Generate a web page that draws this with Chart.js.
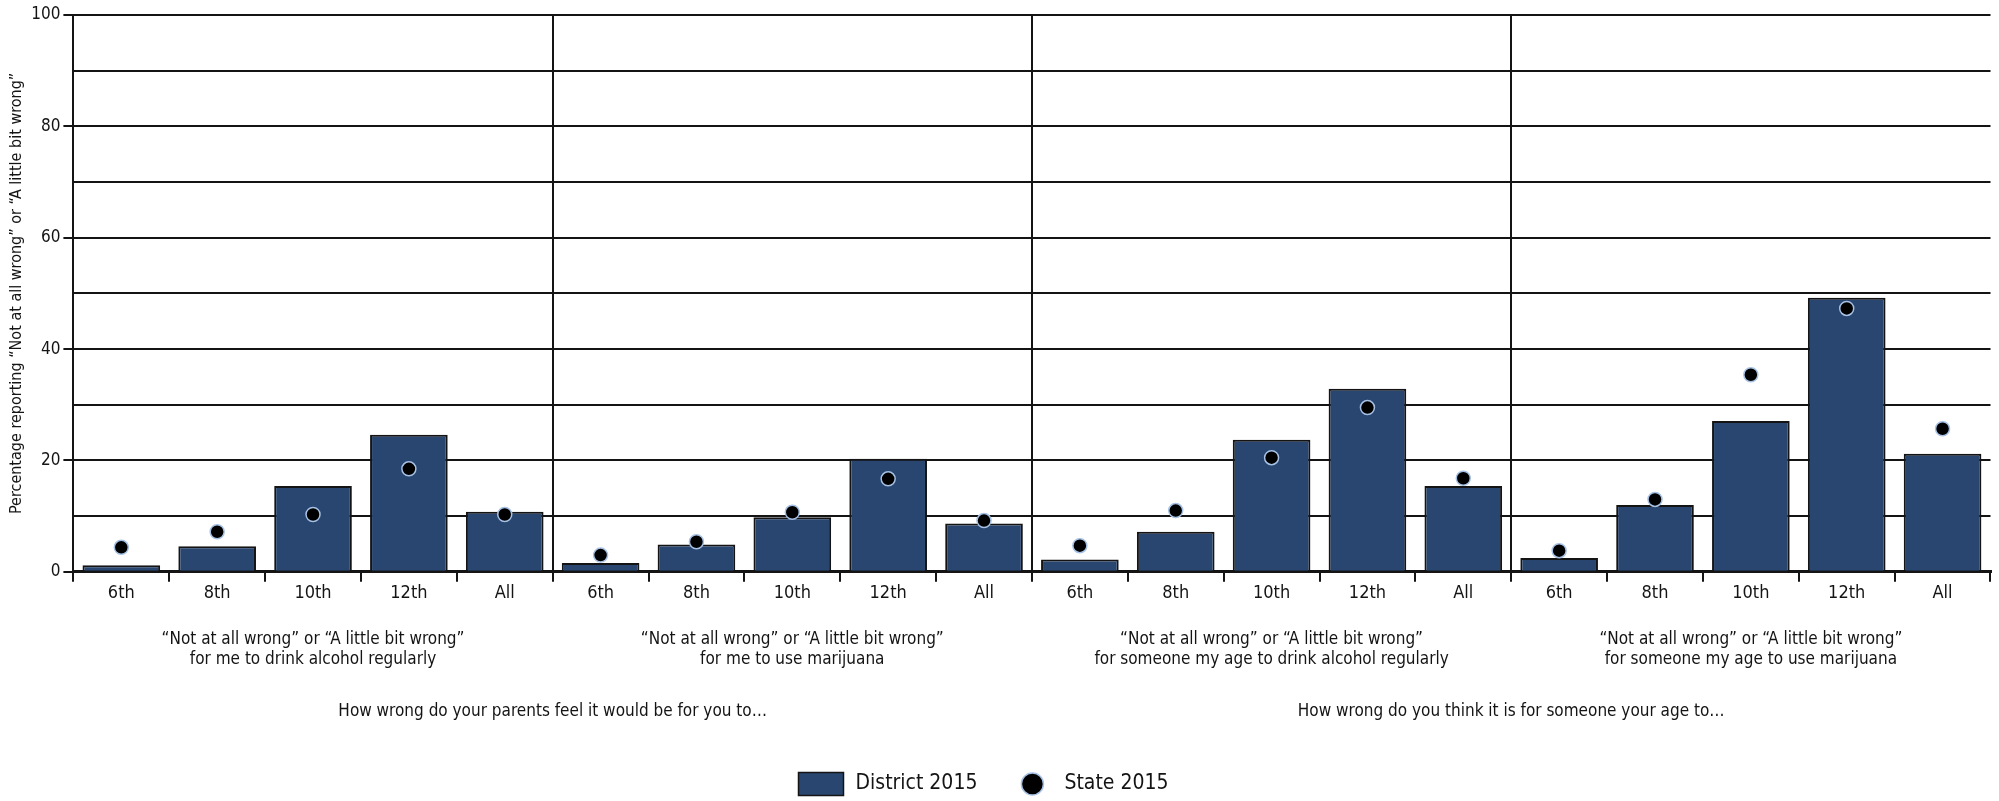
<!DOCTYPE html>
<html>
<head>
<meta charset="utf-8">
<script src="https://cdn.jsdelivr.net/npm/chart.js@4.4.1/dist/chart.umd.min.js"></script>
<style>
  html, body { margin: 0; padding: 0; background: #fff; }
  #wrap { width: 1999px; height: 801px; }
</style>
</head>
<body>
<div id="wrap"><canvas id="chart"></canvas></div>
<script>
// grades repeated for each of the four questions
var grades = ["6th", "8th", "10th", "12th", "All"];
var gradeLabels = [].concat(grades, grades, grades, grades);

var districtValues = [
    1.2, 4.6, 15.4, 24.6, 10.8,
    1.6, 4.9, 9.8, 20.3, 8.7,
    2.2, 7.2, 23.7, 32.9, 15.4,
    2.5, 12.0, 27.1, 49.2, 21.2
];
var stateValues = [
    4.4, 7.2, 10.3, 18.5, 10.3,
    3.0, 5.4, 10.7, 16.7, 9.2,
    4.7, 11.0, 20.5, 29.5, 16.8,
    3.8, 13.0, 35.4, 47.3, 25.7
];

var groupLabels = [
    ["\u201cNot at all wrong\u201d or \u201cA little bit wrong\u201d", "for me to drink alcohol regularly"],
    ["\u201cNot at all wrong\u201d or \u201cA little bit wrong\u201d", "for me to use marijuana"],
    ["\u201cNot at all wrong\u201d or \u201cA little bit wrong\u201d", "for someone my age to drink alcohol regularly"],
    ["\u201cNot at all wrong\u201d or \u201cA little bit wrong\u201d", "for someone my age to use marijuana"]
];
var questionLabels = [
    "How wrong do your parents feel it would be for you to\u2026",
    "How wrong do you think it is for someone your age to\u2026"
];
var yTitle = "Percentage reporting \u201cNot at all wrong\u201d or \u201cA little bit wrong\u201d";

var FONT = "'Liberation Sans Narrow', 'DejaVu Sans Condensed', sans-serif";
var INK = "#141414";
var NAVY = "#284670";
var DOT_EDGE = "#a6c1e4";

// legend drawn by hand: a box for the bars, a dot for the state points
var legendPlugin = {
    id: "bottomLegend",
    afterDraw: function (chart) {
        var ctx = chart.ctx;
        var sets = chart.data.datasets;
        var bar = sets[1], dot = sets[0];
        var y = 784;
        var x = chart.width / 2 - 201;
        ctx.save();
        ctx.font = "21px " + FONT;
        ctx.textBaseline = "middle";
        ctx.fillStyle = bar.backgroundColor;
        ctx.fillRect(x, y - 11.5, 45, 23);
        ctx.lineWidth = 1.5;
        ctx.strokeStyle = bar.borderColor;
        ctx.strokeRect(x, y - 11.5, 45, 23);
        ctx.fillStyle = INK;
        ctx.fillText(bar.label, x + 57, y);
        var tx = x + 57 + ctx.measureText(bar.label).width;
        var cx = tx + 55;
        ctx.beginPath();
        ctx.arc(cx, y, 11, 0, Math.PI * 2);
        ctx.fillStyle = dot.pointBackgroundColor;
        ctx.fill();
        ctx.lineWidth = 1.5;
        ctx.strokeStyle = dot.pointBorderColor;
        ctx.stroke();
        ctx.fillStyle = INK;
        ctx.fillText(dot.label, cx + 32, y);
        ctx.restore();
    }
};

new Chart(document.getElementById("chart"), {
    type: "bar",
    data: {
        labels: gradeLabels,
        datasets: [{
            type: "line",
            label: "State 2015",
            data: stateValues,
            showLine: false,
            pointRadius: 7,
            pointBackgroundColor: "#000000",
            pointBorderColor: DOT_EDGE,
            pointBorderWidth: 1.5,
            order: 1
        }, {
            type: "bar",
            label: "District 2015",
            data: districtValues,
            backgroundColor: NAVY,
            borderColor: INK,
            borderWidth: 2,
            categoryPercentage: 1,
            barPercentage: 0.81,
            order: 2
        }]
    },
    options: {
        responsive: true,
        maintainAspectRatio: false,
        animation: false,
        layout: { padding: { top: 15, right: 7, bottom: 72, left: 0 } },
        plugins: {
            legend: { display: false },
            tooltip: { enabled: false }
        },
        scales: {
            y: {
                min: 0,
                max: 100,
                ticks: {
                    stepSize: 10,
                    padding: 3,
                    color: INK,
                    font: { family: FONT, size: 17 },
                    callback: function (v) { return v % 20 === 0 ? v : ""; }
                },
                grid: {
                    color: INK,
                    lineWidth: 2,
                    tickLength: 10,
                    tickColor: function (c) {
                        return c.tick && c.tick.value % 20 === 0 ? INK : "rgba(0,0,0,0)";
                    }
                },
                border: { color: INK, width: 2 },
                title: {
                    display: true,
                    text: yTitle,
                    color: INK,
                    font: { family: FONT, size: 16 },
                    padding: { top: 7, bottom: 2 }
                }
            },
            x: {
                offset: true,
                ticks: {
                    autoSkip: false,
                    maxRotation: 0,
                    padding: 1,
                    color: INK,
                    font: { family: FONT, size: 18 }
                },
                grid: {
                    offset: true,
                    lineWidth: 2,
                    tickLength: 10,
                    tickColor: INK,
                    color: function (c) {
                        return c.index % 5 === 0 ? INK : "rgba(0,0,0,0)";
                    }
                },
                border: { color: INK, width: 3 }
            },
            groups: {
                type: "category",
                position: "bottom",
                labels: groupLabels,
                offset: true,
                ticks: {
                    autoSkip: false,
                    maxRotation: 0,
                    padding: 24,
                    color: INK,
                    font: { family: FONT, size: 17, lineHeight: 1.2 }
                },
                grid: { display: false, drawTicks: false },
                border: { display: false }
            },
            questions: {
                type: "category",
                position: "bottom",
                labels: questionLabels,
                offset: true,
                ticks: {
                    autoSkip: false,
                    maxRotation: 0,
                    padding: 6,
                    color: INK,
                    font: { family: FONT, size: 17, lineHeight: 1.34 }
                },
                grid: { display: false, drawTicks: false },
                border: { display: false }
            }
        }
    },
    plugins: [legendPlugin]
});
</script>
</body>
</html>
